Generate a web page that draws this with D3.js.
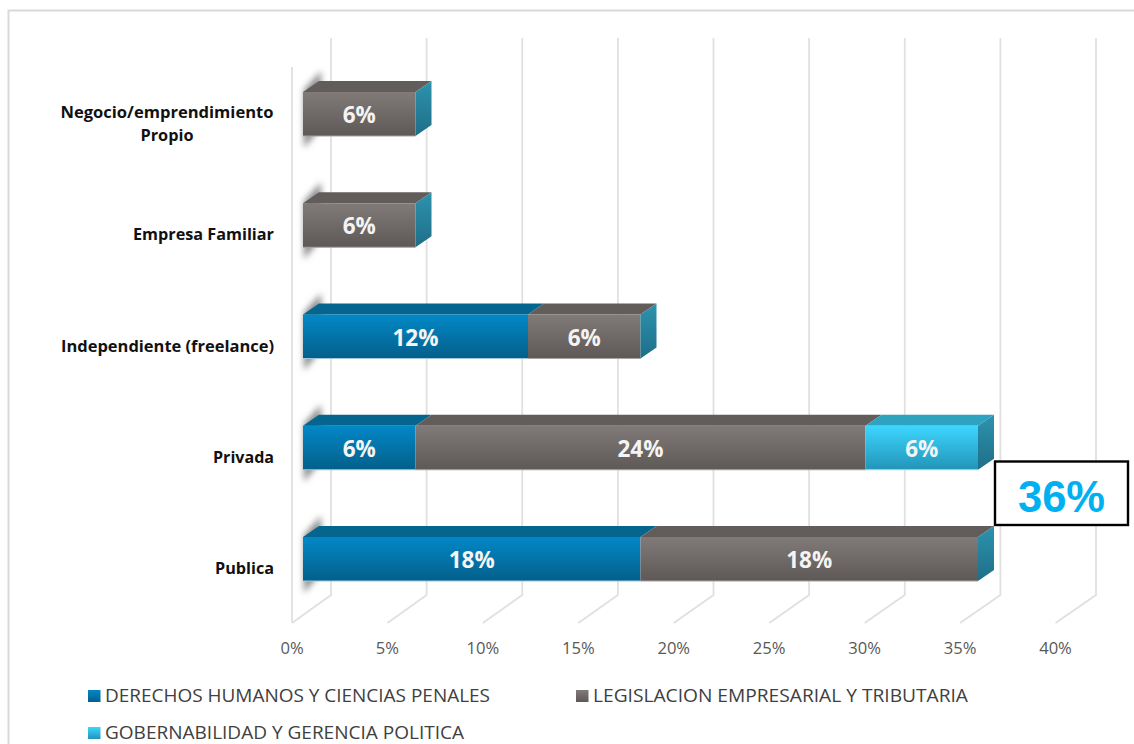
<!DOCTYPE html>
<html><head><meta charset="utf-8">
<style>html,body{margin:0;padding:0;background:#fff}svg{display:block}</style>
<script src="https://cdn.jsdelivr.net/npm/d3@7"></script></head>
<body><svg id="c" width="1134" height="744"></svg>
<script>
const categories = ["Publica","Privada","Independiente (freelance)","Empresa Familiar","Negocio/emprendimiento|Propio"];
const seriesNames = ["DERECHOS HUMANOS Y CIENCIAS PENALES","LEGISLACION EMPRESARIAL Y TRIBUTARIA","GOBERNABILIDAD Y GERENCIA POLITICA"];
const derechos = [18,6,12,0,0];
const legislacion = [18,24,6,6,6];
const gobernabilidad = [0,6,0,0,0];
const ticks = [0,5,10,15,20,25,30,35,40];
const callout = "36%";

const faces = [
 {top:"#04668f",a:"#0288c7",b:"#045f8a",line:"#9cc8dc"},
 {top:"#625c5a",a:"#807a78",b:"#5e5856",line:"#a8a4a2"},
 {top:"#2ea3c0",a:"#3dd6ff",b:"#2394b8",line:"#9fdcee"}
];
const seriesValues = [derechos,legislacion,gobernabilidad];
const svg = d3.select("#c");
const defs = svg.append("defs");
faces.forEach((f,i)=>{
  const g = defs.append("linearGradient").attr("id","g"+i).attr("x1",0).attr("x2",0).attr("y1",0).attr("y2",1);
  g.append("stop").attr("offset","0%").attr("stop-color",f.a);
  g.append("stop").attr("offset","100%").attr("stop-color",f.b);
});
const side = defs.append("linearGradient").attr("id","side").attr("x1",0).attr("x2",0).attr("y1",0).attr("y2",1);
side.append("stop").attr("offset","0%").attr("stop-color","#2d93ae");
side.append("stop").attr("offset","100%").attr("stop-color","#1f6e88");
defs.append("filter").attr("id","blur").attr("x","-60%").attr("y","-30%").attr("width","220%").attr("height","160%")
  .append("feGaussianBlur").attr("stdDeviation",3.2);

// frame
svg.append("path").attr("d","M1134,10.5H8.5V744").attr("fill","none").attr("stroke","#d9d9d9").attr("stroke-width",2);

const xFront = d3.scaleLinear().domain([0,40]).range([292,1055.5]);
const xBack  = d3.scaleLinear().domain([0,40]).range([331,1096]);
const xBar   = d3.scaleLinear().domain([0,36]).range([303,978]);
const yC = d3.scalePoint().domain(d3.range(categories.length).map(String)).range([559,114]);
const floorY = 623, backY = 595, topBack = 38, topFront = 67, barH = 44, dx = 16, dy = 11;

// grid
const grid = svg.append("g").attr("fill","none").attr("stroke","#e0e0e0").attr("stroke-width",1.8);
ticks.forEach(t=>{
  grid.append("path").attr("d",`M${xFront(t)},${floorY}L${xBack(t)},${backY}V${topBack}`);
});
grid.append("path").attr("d",`M${xFront(0)},${floorY}V${topFront}`);

// axis labels
svg.append("g").selectAll("text").data(ticks).join("text")
 .attr("x",t=>xFront(t)).attr("y",654).attr("text-anchor","middle")
 .attr("font-family","'Open Sans',sans-serif").attr("font-size",16.6).attr("fill","#595959")
 .text(t=>t+"%");

// shadows on the wall
const shadow = svg.append("g").attr("filter","url(#blur)");
categories.forEach((c,i)=>{
  const yT = yC(String(i))-22;
  shadow.append("path")
   .attr("d",`M${xBar(0)+1},${yT-2}L${xBar(0)+18},${yT-21}V${yT+barH-9}L${xBar(0)+1},${yT+barH+12}Z`)
   .attr("fill","#8a8a8a");
});

// bars
const labels = [];
categories.forEach((c,i)=>{
  const yT = yC(String(i))-22;
  let acc = 0;
  const g = svg.append("g");
  seriesValues.forEach((vals,s)=>{
    const v = vals[i];
    if(!v) return;
    const x0 = xBar(acc), x1 = xBar(acc+v);
    g.append("path").attr("d",`M${x0},${yT}L${x0+dx},${yT-dy}H${x1+dx}L${x1},${yT}Z`)
      .attr("fill",faces[s].top);
    g.append("rect").attr("x",x0).attr("y",yT).attr("width",x1-x0).attr("height",barH)
      .attr("fill",`url(#g${s})`);
    g.append("path").attr("d",`M${x0},${yT+barH}H${x1}`).attr("stroke",faces[s].line).attr("stroke-width",1);
    labels.push({x:(x0+x1)/2,y:yT+barH/2,t:v+"%"});
    acc += v;
  });
  const xe = xBar(acc);
  g.append("path").attr("d",`M${xe},${yT}L${xe+dx},${yT-dy}V${yT+barH-dy}L${xe},${yT+barH}Z`).attr("fill","url(#side)");
});
svg.append("g").selectAll("text").data(labels).join("text")
 .attr("x",d=>d.x).attr("y",d=>d.y+9).attr("text-anchor","middle")
 .attr("font-family","'Open Sans',sans-serif").attr("font-weight",700).attr("font-size",22.5).attr("fill","#f4f4f4")
 .text(d=>d.t);

// category labels
const cl = svg.append("g").attr("font-family","'Open Sans',sans-serif").attr("font-weight",700).attr("font-size",16).attr("fill","#111");
const catWidth = {"Publica":59,"Privada":61,"Independiente (freelance)":213,"Empresa Familiar":141,"Negocio/emprendimiento":213,"Propio":53};
categories.forEach((c,i)=>{
  const parts = c.split("|"), y = yC(String(i))+15;
  if(parts.length===1){
    cl.append("text").attr("x",274).attr("y",y).attr("text-anchor","end").attr("textLength",catWidth[parts[0]]).attr("lengthAdjust","spacingAndGlyphs").text(parts[0]);
  } else {
    cl.append("text").attr("x",167).attr("y",y-11).attr("text-anchor","middle").attr("textLength",catWidth[parts[0]]).attr("lengthAdjust","spacingAndGlyphs").text(parts[0]);
    cl.append("text").attr("x",167).attr("y",y+12).attr("text-anchor","middle").attr("textLength",catWidth[parts[1]]).attr("lengthAdjust","spacingAndGlyphs").text(parts[1]);
  }
});

// callout
svg.append("rect").attr("x",995).attr("y",461.5).attr("width",133).attr("height",63.5)
 .attr("fill","#fff").attr("stroke","#000").attr("stroke-width",2.4);
svg.append("text").attr("x",1061.5).attr("y",512).attr("text-anchor","middle")
 .attr("font-family","'Liberation Sans',Arial,sans-serif").attr("font-weight",700).attr("font-size",43.5).attr("fill","#00b0f0")
 .text(callout);

// legend
const legendPos = [[88,701],[576,701],[88,738]];
const legendWidth = [385,375,359];
seriesNames.forEach((n,i)=>{
  const [x,y] = legendPos[i];
  svg.append("rect").attr("x",x).attr("y",y-11).attr("width",12.5).attr("height",12).attr("fill",`url(#g${i})`);
  svg.append("text").attr("x",x+17).attr("y",y+0.5).attr("font-family","'Open Sans',sans-serif").attr("font-size",18)
    .attr("textLength",legendWidth[i]).attr("lengthAdjust","spacingAndGlyphs").attr("fill","#404040").text(n);
});
</script></body></html>
